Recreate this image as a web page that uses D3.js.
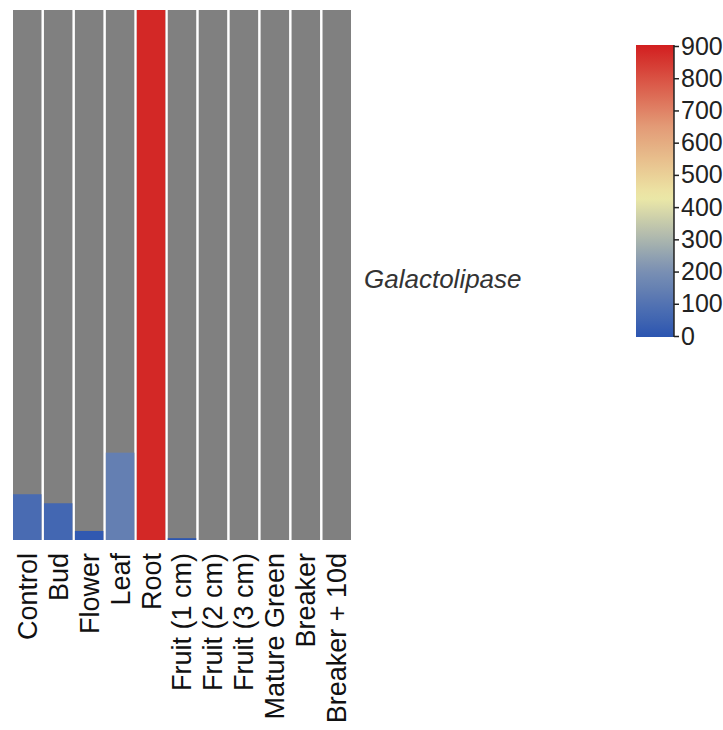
<!DOCTYPE html>
<html>
<head>
<meta charset="utf-8">
<script src="https://cdn.jsdelivr.net/npm/d3@7"></script>
<style>
  body { margin: 0; background: #fff; }
  svg { display: block; font-family: "Liberation Sans", Arial, sans-serif; }
</style>
</head>
<body>
<svg id="chart" width="723" height="730"></svg>
<script>
// tissues and expression of the gene
var tissues = ["Control", "Bud", "Flower", "Leaf", "Root", "Fruit (1 cm)", "Fruit (2 cm)",
               "Fruit (3 cm)", "Mature Green", "Breaker", "Breaker + 10d"];
var expression = [76, 61, 15, 145, 880, 3, 0, 0, 0, 0, 0];
var geneName = "Galactolipase";
var legendTicks = [0, 100, 200, 300, 400, 500, 600, 700, 800, 900];
var colorStops = [0, 210, 430, 650, 900];
var colorRange = ["#2b55b1", "#7d92b3", "#ede9a7", "#e39a76", "#d21e1f"];

var svg = d3.select("#chart");

var margins = { top: 10, left: 13, bottom: 540, right: 351 };

var xScale = d3.scaleBand()
    .domain(tissues)
    .range([margins.left, margins.right])
    .paddingInner(0.08)
    .paddingOuter(0);

var yScale = d3.scaleLinear()
    .domain([0, d3.max(expression)])
    .range([margins.bottom, margins.top]);

var colorScale = d3.scaleLinear()
    .domain(colorStops)
    .range(colorRange);

// grey background columns
svg.selectAll(".bg")
    .data(tissues)
    .enter().append("rect")
    .attr("class", "bg")
    .attr("x", function(d) { return xScale(d); })
    .attr("y", margins.top)
    .attr("width", xScale.bandwidth())
    .attr("height", margins.bottom - margins.top)
    .attr("fill", "#808080");

// expression bars
svg.selectAll(".bar")
    .data(expression)
    .enter().append("rect")
    .attr("class", "bar")
    .attr("x", function(d, i) { return xScale(tissues[i]); })
    .attr("y", function(d) { return yScale(d); })
    .attr("width", xScale.bandwidth())
    .attr("height", function(d) { return margins.bottom - yScale(d); })
    .attr("fill", function(d) { return colorScale(d); });

// tissue labels, rotated
svg.selectAll(".xlabel")
    .data(tissues)
    .enter().append("text")
    .attr("class", "xlabel")
    .attr("transform", function(d) {
        return "translate(" + (xScale(d) + xScale.bandwidth() / 2) + "," + 553 + ") rotate(-90)";
    })
    .attr("dy", "0.35em")
    .style("text-anchor", "end")
    .style("font-size", "27px")
    .style("fill", "#111")
    .text(function(d) { return d; });

// gene name
svg.append("text")
    .attr("x", 364)
    .attr("y", 288)
    .style("font-size", "26px")
    .style("font-style", "italic")
    .style("fill", "#333")
    .text(geneName);

// colour legend
var legendScale = d3.scaleLinear()
    .domain([0, 900])
    .range([336, 46]);

var grad = svg.append("defs").append("linearGradient")
    .attr("id", "legendGrad")
    .attr("x1", "0").attr("y1", "1").attr("x2", "0").attr("y2", "0");

grad.selectAll("stop")
    .data(d3.range(0, 901, 25))
    .enter().append("stop")
    .attr("offset", function(d) { return d / 900; })
    .attr("stop-color", function(d) { return colorScale(d); });

svg.append("rect")
    .attr("x", 636)
    .attr("y", 45)
    .attr("width", 38)
    .attr("height", 292)
    .attr("fill", "url(#legendGrad)");

var legendAxis = svg.append("g")
    .attr("transform", "translate(674,0)")
    .call(d3.axisRight(legendScale).tickValues(legendTicks).tickSize(5).tickPadding(2).tickSizeOuter(0));

legendAxis.select(".domain").attr("stroke", "#222").attr("stroke-width", 1.5).attr("d", "M0,45V337");
legendAxis.selectAll(".tick line").attr("stroke", "#222").attr("stroke-width", 1.5);
legendAxis.selectAll("text")
    .style("font-size", "25px")
    .style("font-family", "Liberation Sans, Arial, sans-serif")
    .style("fill", "#222");
</script>
</body>
</html>
